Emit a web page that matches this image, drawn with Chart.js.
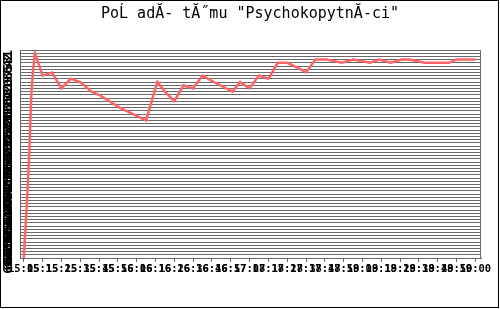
<!DOCTYPE html>
<html>
<head>
<meta charset="utf-8">
<script src="https://cdn.jsdelivr.net/npm/chart.js@4/dist/chart.umd.min.js"></script>
<style>
html,body{margin:0;padding:0;background:#fff;}
#wrap{width:500px;height:309px;position:relative;}
</style>
</head>
<body>
<div id="wrap"><canvas id="c" width="500" height="309"></canvas></div>
<script>
// ---- data ----
const titleText = 'PoĹ adĂ- tĂ˝mu "PsychokopytnĂ-ci"';
const tickLabels = ["15:05","15:15","15:25","15:35","15:45","15:56","16:06","16:16","16:26","16:36","16:46","16:57","17:08","17:18","17:28","17:38","17:48","17:59","18:09","18:19","18:29","18:39","18:49","18:50","19:00"];
const tickIndex = [0,10,20,30,40,50,60,70,80,90,100,110,120,130,140,150,160,170,180,190,200,210,220,230,240];
const sampleIndex = [0,1,2,3,4,5,6,10,15,20,25,30,36,40,51,65,71,75,80,85,90,95,101,111,115,120,125,130,135,140,147,150,155,161,169,175,184,189,195,201,205,213,220,226,230,240];
const rank =        [66,56,45,32,15,7,2,9,8,13,10,11,14,15,19,23,11,14,17,12,13,9,11,14,11,13,9,10,5,5,7,8,4,4,5,4,5,4,5,4,4,5,5,5,4,4];
const rankTicks = Array.from({length:66},(_,i)=>i+1);

const points = sampleIndex.map((x,i)=>({x:x,y:rank[i]}));

const frame = {
  id:'frame',
  afterDraw(chart){
    const ctx=chart.ctx, a=chart.chartArea;
    ctx.save();
    ctx.strokeStyle='#000';ctx.lineWidth=1;
    ctx.strokeRect(0.5,0.5,498,307);
    ctx.strokeStyle='#666';
    ctx.strokeRect(Math.round(a.left)+0.5,Math.round(a.top)+0.5,Math.round(a.right-a.left)-1,Math.round(a.bottom-a.top));
    ctx.restore();
  }
};

new Chart(document.getElementById('c'),{
  type:'line',
  data:{datasets:[{data:points,borderColor:'#ff6464',borderWidth:2.5,pointRadius:0,tension:0,fill:false}]},
  options:{
    responsive:false,animation:false,
    layout:{padding:{left:0,right:0,top:0,bottom:0}},
    plugins:{
      legend:{display:false},tooltip:{enabled:false},
      title:{display:true,text:titleText,color:'#000',font:{family:'DejaVu Sans Mono',size:15,weight:'normal'},padding:{top:5,bottom:27}}
    },
    scales:{
      x:{type:'linear',min:-2,max:243,
        afterBuildTicks(s){s.ticks=tickIndex.map(v=>({value:v}));},
        afterFit(s){s.height=51;},
        grid:{display:true,drawOnChartArea:false,drawTicks:true,tickLength:4,color:'#666'},
        border:{display:true,color:'#666'},
        ticks:{autoSkip:false,maxRotation:0,minRotation:0,padding:1,color:'#000',
          font:{family:'DejaVu Sans Mono',size:10.5,weight:'bold'},
          callback:(v,i)=>tickLabels[i]}
      },
      y:{type:'linear',reverse:true,min:1,max:66,
        afterBuildTicks(s){s.ticks=rankTicks.map(v=>({value:v}));},
        afterFit(s){s.width=20;},
        grid:{display:true,drawTicks:false,color:'#6a6a6a',lineWidth:1},
        border:{display:false},
        ticks:{autoSkip:false,minRotation:90,maxRotation:90,padding:11,color:'#000',
          font:{family:'DejaVu Sans Mono',size:13,weight:'bold'}}
      },
      yr:{type:'linear',position:'right',display:true,
        afterFit(s){s.width=19;},
        grid:{display:false},border:{display:false},ticks:{display:false}
      }
    }
  },
  plugins:[frame]
});
</script>
</body>
</html>
